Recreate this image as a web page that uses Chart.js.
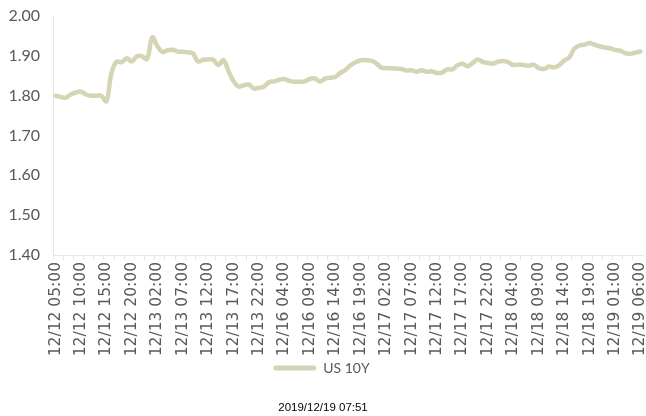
<!DOCTYPE html>
<html><head><meta charset="utf-8">
<script src="https://cdn.jsdelivr.net/npm/chart.js@4"></script>
<style>
html,body{margin:0;padding:0;background:#fff;}
#wrap{position:relative;width:646px;height:416px;overflow:hidden;}
#footer{position:absolute;left:0;width:646px;top:400px;text-align:center;font:11.5px "Liberation Sans",Arial,sans-serif;color:#000;line-height:14px;}
</style></head><body>
<div id="wrap"><canvas id="c" width="646" height="416"></canvas><div id="footer"></div></div>
<script>
const categories = [
 '12/12 05:00','12/12 06:00','12/12 07:00','12/12 08:00','12/12 09:00','12/12 10:00','12/12 11:00','12/12 12:00','12/12 13:00','12/12 14:00',
 '12/12 15:00','12/12 16:00','12/12 17:00','12/12 18:00','12/12 19:00','12/12 20:00','12/12 21:00','12/12 22:00','12/12 23:00','12/13 01:00',
 '12/13 02:00','12/13 03:00','12/13 04:00','12/13 05:00','12/13 06:00','12/13 07:00','12/13 08:00','12/13 09:00','12/13 10:00','12/13 11:00',
 '12/13 12:00','12/13 13:00','12/13 14:00','12/13 15:00','12/13 16:00','12/13 17:00','12/13 18:00','12/13 19:00','12/13 20:00','12/13 21:00',
 '12/13 22:00','12/13 23:00','12/16 01:00','12/16 02:00','12/16 03:00','12/16 04:00','12/16 05:00','12/16 06:00','12/16 07:00','12/16 08:00',
 '12/16 09:00','12/16 10:00','12/16 11:00','12/16 12:00','12/16 13:00','12/16 14:00','12/16 15:00','12/16 16:00','12/16 17:00','12/16 18:00',
 '12/16 19:00','12/16 20:00','12/16 21:00','12/16 22:00','12/16 23:00','12/17 02:00','12/17 03:00','12/17 04:00','12/17 05:00','12/17 06:00',
 '12/17 07:00','12/17 08:00','12/17 09:00','12/17 10:00','12/17 11:00','12/17 12:00','12/17 13:00','12/17 14:00','12/17 15:00','12/17 16:00',
 '12/17 17:00','12/17 18:00','12/17 19:00','12/17 20:00','12/17 21:00','12/17 22:00','12/17 23:00','12/18 01:00','12/18 02:00','12/18 03:00',
 '12/18 04:00','12/18 05:00','12/18 06:00','12/18 07:00','12/18 08:00','12/18 09:00','12/18 10:00','12/18 11:00','12/18 12:00','12/18 13:00',
 '12/18 14:00','12/18 15:00','12/18 16:00','12/18 17:00','12/18 18:00','12/18 19:00','12/18 20:00','12/18 21:00','12/18 22:00','12/18 23:00',
 '12/19 01:00','12/19 02:00','12/19 03:00','12/19 04:00','12/19 05:00','12/19 06:00'
];
const us10y = [
 1.800,1.797,1.795,1.803,1.808,1.810,1.803,1.800,1.800,1.800,
 1.786,1.857,1.885,1.884,1.894,1.886,1.899,1.899,1.892,1.946,
 1.925,1.910,1.914,1.915,1.911,1.910,1.909,1.906,1.886,1.890,
 1.891,1.890,1.877,1.889,1.862,1.836,1.823,1.826,1.828,1.818,
 1.820,1.823,1.834,1.836,1.840,1.842,1.837,1.835,1.835,1.836,
 1.842,1.843,1.835,1.843,1.845,1.847,1.857,1.865,1.876,1.884,
 1.889,1.889,1.888,1.882,1.871,1.869,1.869,1.868,1.867,1.863,
 1.864,1.860,1.864,1.860,1.861,1.857,1.858,1.866,1.866,1.876,
 1.880,1.874,1.882,1.891,1.885,1.882,1.881,1.885,1.887,1.884,
 1.877,1.878,1.877,1.875,1.878,1.869,1.867,1.873,1.871,1.876,
 1.888,1.896,1.918,1.926,1.928,1.932,1.928,1.924,1.921,1.919,
 1.915,1.913,1.907,1.905,1.908,1.911
];
const yTickValues = [1.40,1.50,1.60,1.70,1.80,1.90,2.00];
const labelEvery = 5;
const seriesName = 'US 10Y';
const stampText = '2019/12/19 07:51';

document.getElementById('footer').textContent = stampText;
const lineColor = '#d5d4b4';
const textColor = '#595959';
const axisColor = '#e6e6e6';

new Chart(document.getElementById('c'), {
  type: 'line',
  data: {
    labels: categories,
    datasets: [{
      label: seriesName,
      data: us10y,
      borderColor: lineColor,
      backgroundColor: lineColor,
      borderWidth: 4.5,
      pointRadius: 0,
      tension: 0.4,
      borderCapStyle: 'round',
      borderJoinStyle: 'round',
      fill: false
    }]
  },
  options: {
    responsive: false,
    animation: false,
    layout: { padding: { top: 16, right: 3, left: 0, bottom: 31 } },
    plugins: {
      tooltip: { enabled: false },
      legend: {
        position: 'bottom',
        labels: {
          boxWidth: 43, boxHeight: 5, padding: 6,
          color: textColor,
          font: { family: 'Lato', size: 14 },
          useBorderRadius: true, borderRadius: 2.5,
          generateLabels: (chart) => chart.data.datasets.map((d, i) => ({
            text: d.label, fillStyle: lineColor, strokeStyle: lineColor, lineWidth: 0,
            fontColor: textColor, datasetIndex: i, borderRadius: 2.5, hidden: false
          }))
        }
      }
    },
    scales: {
      x: {
        type: 'category',
        offset: true,
        grid: {
          offset: true, drawOnChartArea: false, drawTicks: true, tickLength: 5,
          color: (ctx) => (ctx.index % 2 === 0 ? axisColor : 'rgba(0,0,0,0)')
        },
        border: { display: true, color: axisColor, width: 1 },
        ticks: {
          autoSkip: false, maxRotation: 90, minRotation: 90, padding: 2,
          color: textColor,
          font: { family: 'DejaVu Sans', size: 15.5 },
          callback: (v, i) => (i % labelEvery === 0 ? categories[i] : '')
        },
        afterFit: (s) => { s.height = 100; s.paddingLeft = 0; s.paddingRight = 0; }
      },
      y: {
        min: yTickValues[0], max: yTickValues[yTickValues.length - 1],
        afterBuildTicks: (s) => { s.ticks = yTickValues.map(v => ({ value: v })); },
        grid: { display: false, drawTicks: false },
        border: { display: true, color: axisColor, width: 1 },
        ticks: {
          padding: 13, color: textColor,
          font: { family: 'Lato', size: 16 },
          callback: (v) => Number(v).toFixed(2)
        },
        afterFit: (s) => { s.width = 53; s.paddingTop = 0; s.paddingBottom = 0; }
      }
    }
  }
});
</script>
</body></html>
